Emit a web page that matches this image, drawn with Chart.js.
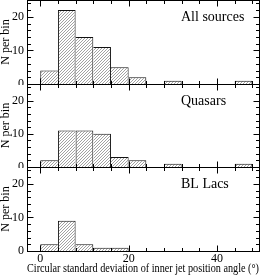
<!DOCTYPE html>
<html>
<head>
<meta charset="utf-8">
<script src="https://cdn.jsdelivr.net/npm/chart.js@4/dist/chart.umd.min.js"></script>
<style>
  html, body { margin: 0; padding: 0; background: #fff; }
  #wrap { position: relative; width: 275px; height: 276px; overflow: hidden; }
  canvas { position: absolute; left: 0; }
</style>
</head>
<body>
<div id="wrap">
  <canvas id="p1" width="275" height="85" style="top:0"></canvas>
  <canvas id="p2" width="275" height="84" style="top:84px"></canvas>
  <canvas id="p3" width="275" height="109" style="top:167px"></canvas>
</div>
<script>
// ── data ─────────────────────────────────────────────────────────────────────
const BIN_LEFT = [0, 4, 8, 12, 16, 20, 24, 28, 32, 36, 40, 44];
const BIN_WIDTH = 4;
const ALL_SOURCES = [4, 22, 14, 11, 5, 2, 0, 1, 0, 0, 0, 1];
const QUASARS     = [2, 11, 11, 10, 3, 2, 0, 1, 0, 0, 0, 1];
const BL_LACS     = [2, 9, 2, 1, 1, 0, 0, 0, 0, 0, 0, 0];
const PANEL_NAMES = ['All sources', 'Quasars', 'BL Lacs'];
const X_LABELS = [0, 20, 40];
const Y_LABELS = [0, 10, 20];
const X_TITLE = 'Circular standard deviation of inner jet position angle (°)';
const Y_TITLE = 'N per bin';

const X_MIN = -3, X_MAX = 49.5, Y_MAX = 25;
const SERIF = '"Liberation Serif", "DejaVu Serif", serif';

// ── hatch fill ───────────────────────────────────────────────────────────────
function makeHatch() {
  const c = document.createElement('canvas');
  c.width = 3; c.height = 3;
  const g = c.getContext('2d');
  g.fillStyle = '#fff';
  g.fillRect(0, 0, 3, 3);
  g.strokeStyle = '#8a8a8a';
  g.lineWidth = 0.8;
  g.beginPath();
  g.moveTo(0, 3); g.lineTo(3, 0);
  g.moveTo(-1, 1); g.lineTo(1, -1);
  g.moveTo(2, 4); g.lineTo(4, 2);
  g.stroke();
  return g.createPattern(c, 'repeat');
}

// ── frame, inward ticks and panel name ───────────────────────────────────────
const framePlugin = {
  id: 'frame',
  afterDatasetsDraw(chart, args, opts) {
    const { ctx, chartArea: a, scales: { x, y } } = chart;
    const L = Math.round(a.left) + 0.5, R = Math.round(a.right) + 0.5;
    const T = Math.round(a.top) + 0.5, B = Math.round(a.bottom) + 0.5;
    ctx.save();
    ctx.strokeStyle = '#000';
    ctx.lineWidth = 1;
    ctx.beginPath();
    for (let v = 0; v <= 48; v += 4) {
      const px = Math.round(x.getPixelForValue(v)) + 0.5;
      const len = v % 20 === 0 ? 6 : 3.5;
      ctx.moveTo(px, B); ctx.lineTo(px, B - len);
      ctx.moveTo(px, T); ctx.lineTo(px, T + len);
    }
    for (let v = 0; v <= 24; v += 2) {
      const py = Math.round(y.getPixelForValue(v)) + 0.5;
      const len = v % 10 === 0 ? 6 : 3.5;
      ctx.moveTo(L, py); ctx.lineTo(L + len, py);
      ctx.moveTo(R, py); ctx.lineTo(R - len, py);
    }
    ctx.stroke();
    ctx.strokeRect(L, T, R - L, B - T);
    ctx.fillStyle = '#000';
    ctx.font = '14px ' + SERIF;
    ctx.textAlign = 'left';
    ctx.textBaseline = 'middle';
    ctx.fillText(opts.name, a.left + 154, a.top + 17);
    ctx.restore();
  }
};

const hatch = makeHatch();

function noPad(s) {
  s.paddingTop = 0; s.paddingBottom = 0;
  s.paddingLeft = 0; s.paddingRight = 0;
}

function makePanel(id, counts, name, isBottom) {
  const points = BIN_LEFT.map((l, i) => ({ x: l + BIN_WIDTH / 2, y: counts[i] || null }));
  const h = i => counts[i] || 0;
  return new Chart(document.getElementById(id), {
    type: 'bar',
    data: {
      datasets: [{
        data: points,
        backgroundColor: hatch,
        borderColor: '#111',
        borderSkipped: 'start',
        borderWidth: c => {
          const i = c.dataIndex;
          return {
            top: 1, bottom: 0,
            left: h(i) >= h(i - 1) ? 1 : 0,
            right: h(i) > h(i + 1) ? 1 : 0
          };
        },
        barPercentage: 1,
        categoryPercentage: 1,
        inflateAmount: 0
      }]
    },
    options: {
      responsive: false,
      animation: false,
      devicePixelRatio: 1,
      layout: { autoPadding: false, padding: { left: 0, right: 16, top: 0, bottom: isBottom ? 0 : 1 } },
      plugins: {
        legend: { display: false },
        tooltip: { enabled: false },
        frame: { name }
      },
      scales: {
        x: {
          type: 'linear',
          min: X_MIN, max: X_MAX,
          offset: false,
          display: isBottom,
          grid: { display: false, drawTicks: false },
          border: { display: false },
          afterBuildTicks: s => { s.ticks = X_LABELS.map(v => ({ value: v })); },
          ticks: { color: '#000', font: { family: SERIF, size: 12 }, padding: 1, maxRotation: 0, autoSkip: false },
          title: { display: true, text: X_TITLE, color: '#000', font: { family: SERIF, size: 12.8 }, padding: { top: 0, bottom: 0 } },
          afterFit: s => { s.height = isBottom ? 25 : 0; noPad(s); }
        },
        y: {
          min: 0, max: Y_MAX,
          grid: { display: false, drawTicks: false },
          border: { display: false },
          afterBuildTicks: s => { s.ticks = Y_LABELS.map(v => ({ value: v })); },
          ticks: { color: '#000', font: { family: SERIF, size: 12 }, padding: 3 },
          title: { display: true, text: Y_TITLE, color: '#000', font: { family: SERIF, size: 12 }, padding: { top: -1, bottom: 0 } },
          afterFit: s => { s.width = 27; noPad(s); }
        }
      }
    },
    plugins: [framePlugin]
  });
}

makePanel('p1', ALL_SOURCES, PANEL_NAMES[0], false);
makePanel('p2', QUASARS, PANEL_NAMES[1], false);
makePanel('p3', BL_LACS, PANEL_NAMES[2], true);
</script>
</body>
</html>
